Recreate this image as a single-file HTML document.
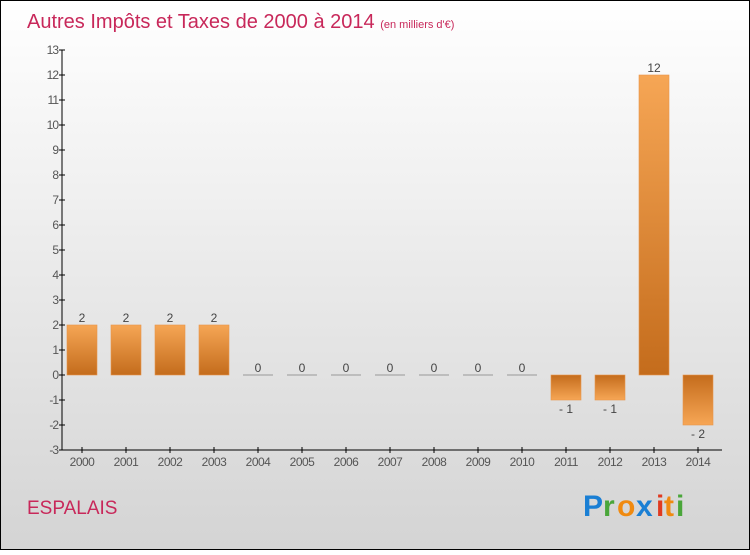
<!DOCTYPE html>
<html><head><meta charset="utf-8"><style>
html,body{margin:0;padding:0}
body{width:750px;height:550px;overflow:hidden;font-family:"Liberation Sans",sans-serif}
</style></head><body>
<svg width="750" height="550" viewBox="0 0 750 550" xmlns="http://www.w3.org/2000/svg">
<defs>
<linearGradient id="bg" x1="0" y1="0" x2="0" y2="1"><stop offset="0" stop-color="#ffffff"/><stop offset="1" stop-color="#d4d4d4"/></linearGradient>
<linearGradient id="pos" x1="0" y1="0" x2="0" y2="1"><stop offset="0" stop-color="#f6a655"/><stop offset="1" stop-color="#c46c1c"/></linearGradient>
<linearGradient id="neg" x1="0" y1="0" x2="0" y2="1"><stop offset="0" stop-color="#c46c1c"/><stop offset="1" stop-color="#f6a655"/></linearGradient>
</defs>
<rect x="0.5" y="0.5" width="749" height="549" fill="url(#bg)" stroke="#000"/>
<text x="27" y="28" font-size="20" fill="#c8285a">Autres Impôts et Taxes de 2000 à 2014 <tspan font-size="11">(en milliers d'€)</tspan></text>
<g id="axes"></g>
<g id="bars"></g>
<text x="27" y="514" font-size="19" fill="#c8285a">ESPALAIS</text>
<g font-size="30" font-weight="bold">
<text x="583" y="516" fill="#1a7fd4">P</text><text x="603" y="516" fill="#4aa63a">r</text><text x="617" y="516" fill="#f08a10">o</text><text x="636" y="516" fill="#1a7fd4">x</text><text x="656" y="516" fill="#e03a20">i</text><text x="664" y="516" fill="#f08a10">t</text><text x="676" y="516" fill="#4aa63a">i</text>
</g>
</svg>
<script>
const years=["2000","2001","2002","2003","2004","2005","2006","2007","2008","2009","2010","2011","2012","2013","2014"];
const values=[2,2,2,2,0,0,0,0,0,0,0,-1,-1,12,-2];
const yTicks=[-3,-2,-1,0,1,2,3,4,5,6,7,8,9,10,11,12,13];
const NS="http://www.w3.org/2000/svg";
const yMin=-3,yMax=13,plotTop=50,plotBot=450,x0=62,step=44,firstC=82,bw=30;
const yS=v=>plotBot-(v-yMin)*(plotBot-plotTop)/(yMax-yMin);
const xc=i=>firstC+i*step;
function mk(tag,attrs,parent){const e=document.createElementNS(NS,tag);for(const k in attrs)e.setAttribute(k,attrs[k]);parent.appendChild(e);return e;}
const ax=document.getElementById('axes'),bg=document.getElementById('bars');
let l=mk('line',{x1:x0,y1:plotTop,x2:x0,y2:plotBot,stroke:'#000'},ax);


l=mk('line',{x1:x0,y1:plotBot,x2:722,y2:plotBot,stroke:'#000'},ax);


yTicks.forEach(t=>{
 mk('line',{x1:x0-3,y1:yS(t),x2:x0+3,y2:yS(t),stroke:'#000'},ax);
 const tx=mk('text',{x:x0-4,y:yS(t)+4,'text-anchor':'end','font-size':12,fill:'#555','letter-spacing':'-1'},ax);
 tx.textContent=t;
 
 
});
years.forEach((yr,i)=>{
 mk('line',{x1:xc(i),y1:plotBot-3,x2:xc(i),y2:plotBot+3,stroke:'#000'},ax);
 const tx=mk('text',{x:xc(i),y:plotBot+16,'text-anchor':'middle','font-size':12,fill:'#555','letter-spacing':'-0.5'},ax);
 tx.textContent=yr;
 
 
 const v=values[i];
 if(v!==0){
  const r=mk('rect',{x:xc(i)-bw/2,y:Math.min(yS(v),yS(0)),width:bw,height:Math.abs(yS(v)-yS(0)),fill:v>0?'url(#pos)':'url(#neg)',stroke:'#e8954a','stroke-width':0.6},bg);
  
  
 } else {
  const r=mk('line',{x1:xc(i)-bw/2,y1:yS(0),x2:xc(i)+bw/2,y2:yS(0),stroke:'#999'},bg);
  
  
 }
 const lb=mk('text',{x:xc(i),y:v>=0?yS(v)-3:yS(v)+13,'text-anchor':'middle','font-size':12,fill:'#444'},bg);
 lb.textContent=v<0?'- '+Math.abs(v):v;
 
 
});
</script>
</body></html>
